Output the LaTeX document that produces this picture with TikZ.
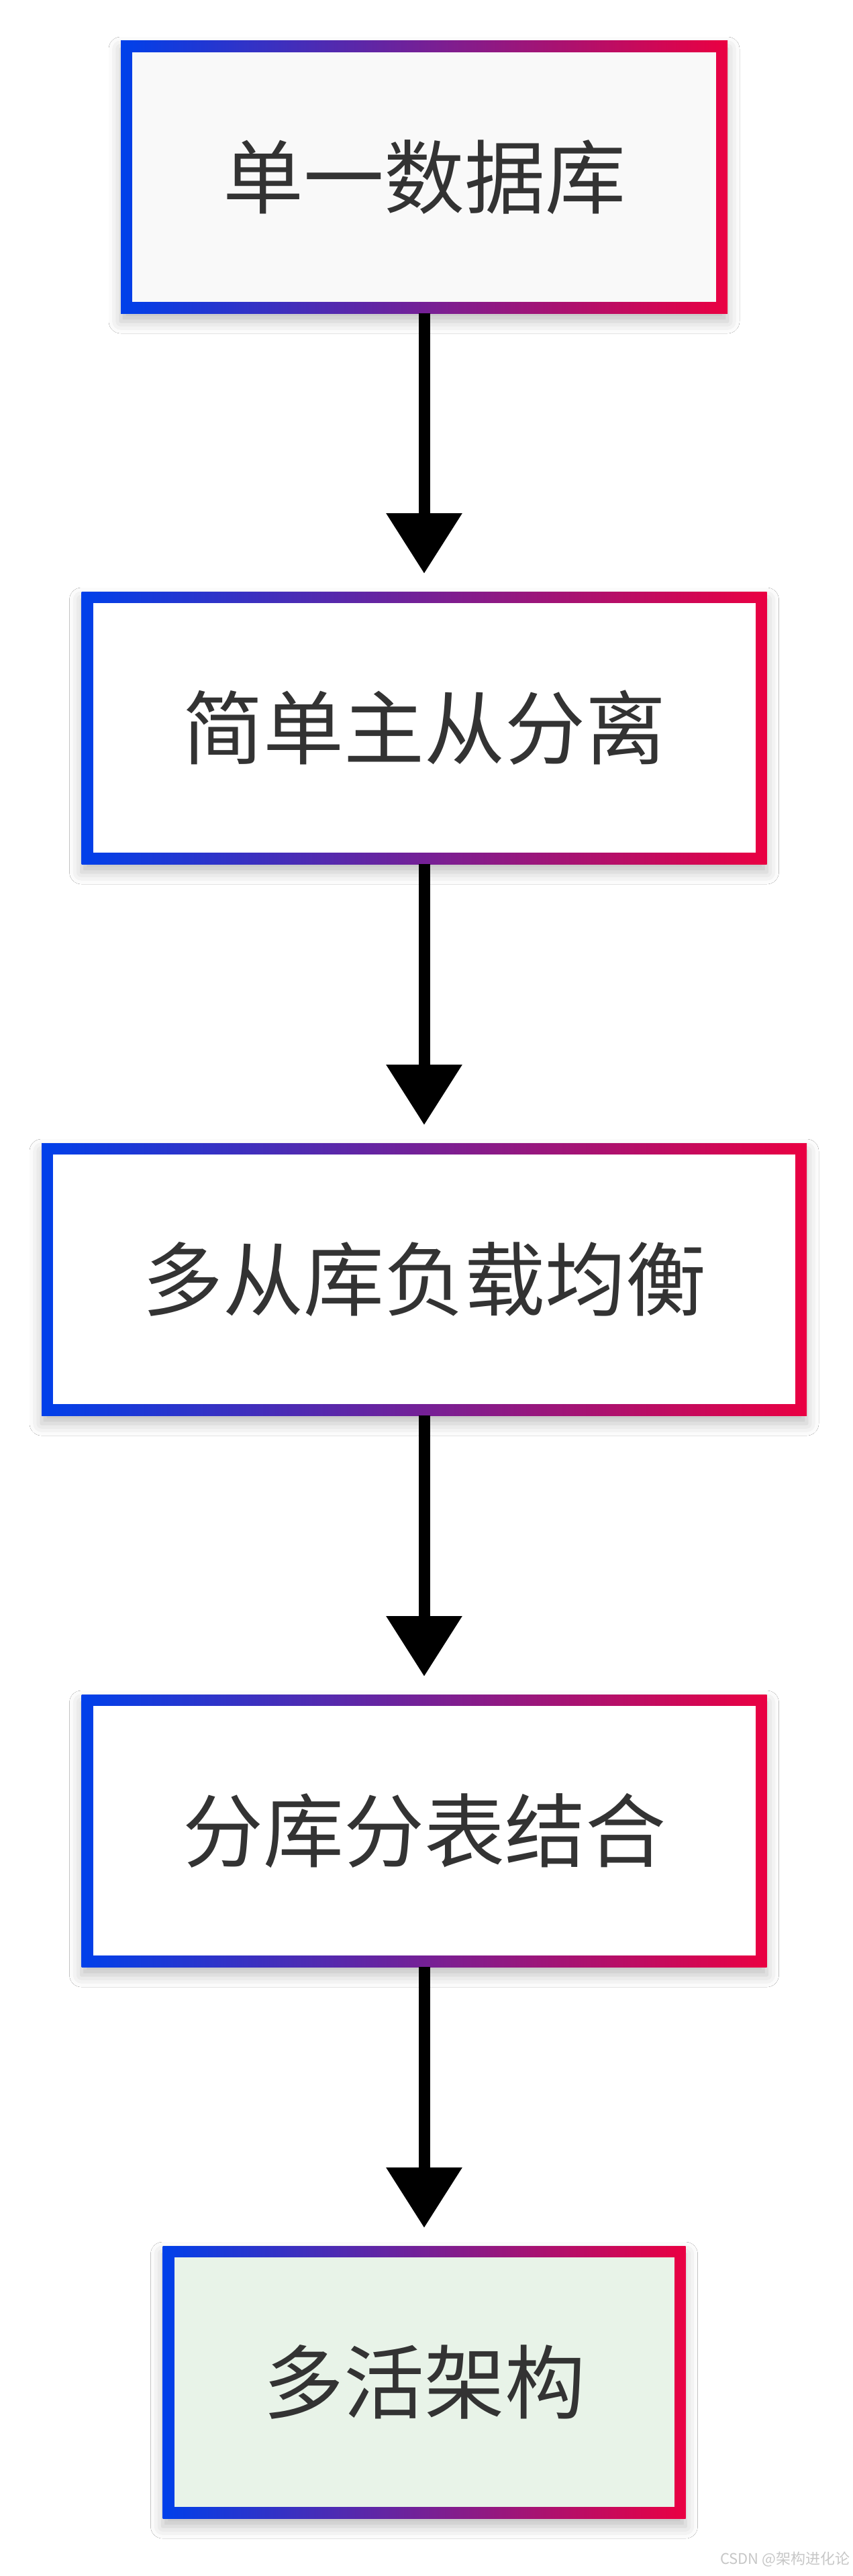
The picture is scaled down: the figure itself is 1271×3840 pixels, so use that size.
\documentclass[tikz,border=0pt]{standalone}
\usepackage{fontspec}
\setmainfont{Noto Sans CJK SC}
\usetikzlibrary{arrows.meta, positioning, shadows.blur}
\definecolor{edgeblue}{RGB}{0,64,234}
\definecolor{edgered}{RGB}{234,0,66}
\definecolor{txtgray}{HTML}{333333}
\definecolor{boxgray}{HTML}{F9F9F9}
\definecolor{boxgreen}{HTML}{E8F3E8}

\begin{document}
\begin{tikzpicture}[x=1pt, y=1pt,
  stage/.style={rectangle, inner sep=0pt, outer sep=0pt, left color=edgeblue, right color=edgered,
               minimum height=406pt, text=txtgray, font=\fontsize{120}{140}\selectfont,
               blur shadow={shadow xshift=0pt, shadow yshift=-12pt, shadow blur radius=18pt, shadow opacity=25},
               path picture={\fill[#1] ([shift={(17pt,17pt)}]path picture bounding box.south west)
                 rectangle ([shift={(-17pt,-17pt)}]path picture bounding box.north east);}},
  stage/.default=white,
  arr/.style={-{Triangle[length=90pt, width=109pt]}, line width=17pt, shorten >=27pt},
  wm/.style={font=\fontsize{22}{26}\selectfont, text=black!22, anchor=east}
]
  \useasboundingbox (0,0) rectangle (1271,-3840);
  \fill[white] (0,0) rectangle (1271,-3840);

  \node[stage=boxgray, minimum width=904pt]   (single)  at (632, -264)  {单一数据库};
  \node[stage, minimum width=1021pt]          (master)  at (632, -1085) {简单主从分离};
  \node[stage, minimum width=1140pt]          (slaves)  at (632, -1907) {多从库负载均衡};
  \node[stage, minimum width=1021pt]          (sharding) at (632, -2729) {分库分表结合};
  \node[stage=boxgreen, minimum width=779pt]  (active)  at (632, -3551) {多活架构};

  \draw[arr] (single)   -- (master);
  \draw[arr] (master)   -- (slaves);
  \draw[arr] (slaves)   -- (sharding);
  \draw[arr] (sharding) -- (active);

  \node[wm] (csdn) at (1270, -3815) {CSDN @架构进化论};
\end{tikzpicture}
\end{document}
